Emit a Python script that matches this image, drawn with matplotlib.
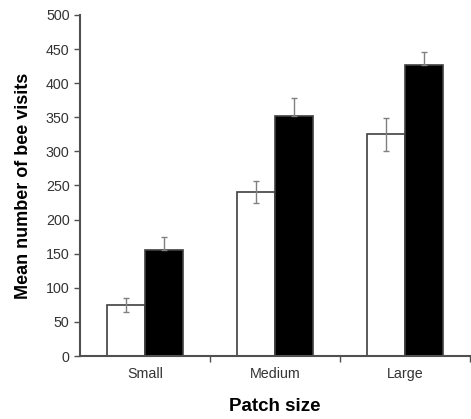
import matplotlib
matplotlib.use("Agg")
import matplotlib.pyplot as plt
import numpy as np

# Data
categories = ['Small', 'Medium', 'Large']
white_means = [75, 240, 325]
white_err = [10, 16, 24]
black_means = [155, 352, 427]
black_err = [20, 27, 19]

plt.rcParams['font.family'] = ['Liberation Sans', 'DejaVu Sans']

fig = plt.figure(figsize=(4.71, 4.19), dpi=100)
ax = fig.add_axes([80 / 471, 63 / 419, 390 / 471, 341 / 419])

x = np.arange(len(categories))
w = 0.29
err_kw = dict(ecolor='#808080', elinewidth=1, capsize=2.5, capthick=1)

ax.bar(x - w / 2, white_means, w, color='white', edgecolor='#404040',
       linewidth=1.2, yerr=white_err, error_kw=err_kw, zorder=2)
ax.bar(x + w / 2, black_means, w, color='black', edgecolor='#404040',
       linewidth=1.2, zorder=2)
ax.errorbar(x + w / 2, black_means, yerr=[np.zeros(3), black_err],
            fmt='none', zorder=3, **err_kw)

ax.set_xlim(-0.5, 2.5)
ax.set_ylim(0, 500)
ax.set_yticks(np.arange(0, 501, 50))

# category ticks between groups, labels centred under them
ax.set_xticks([0.5, 1.5, 2.5])
ax.set_xticklabels([])
ax.set_xticks(x, minor=True)
ax.set_xticklabels(categories, minor=True)
ax.tick_params(axis='x', which='minor', length=0, pad=8)

for s in ['top', 'right']:
    ax.spines[s].set_visible(False)
for s in ['left', 'bottom']:
    ax.spines[s].set_color('#505050')
    ax.spines[s].set_linewidth(1.5)

ax.tick_params(axis='both', which='major', color='#505050', length=4,
               width=1, labelsize=10.3, labelcolor='#333333')
ax.tick_params(axis='x', which='minor', labelsize=10.3, labelcolor='#333333')

ax.set_ylabel('Mean number of bee visits', fontsize=13, fontweight='bold',
              labelpad=10)
ax.set_xlabel('Patch size', fontsize=13.5, fontweight='bold', labelpad=12)

fig.savefig('out.png', dpi=100)
